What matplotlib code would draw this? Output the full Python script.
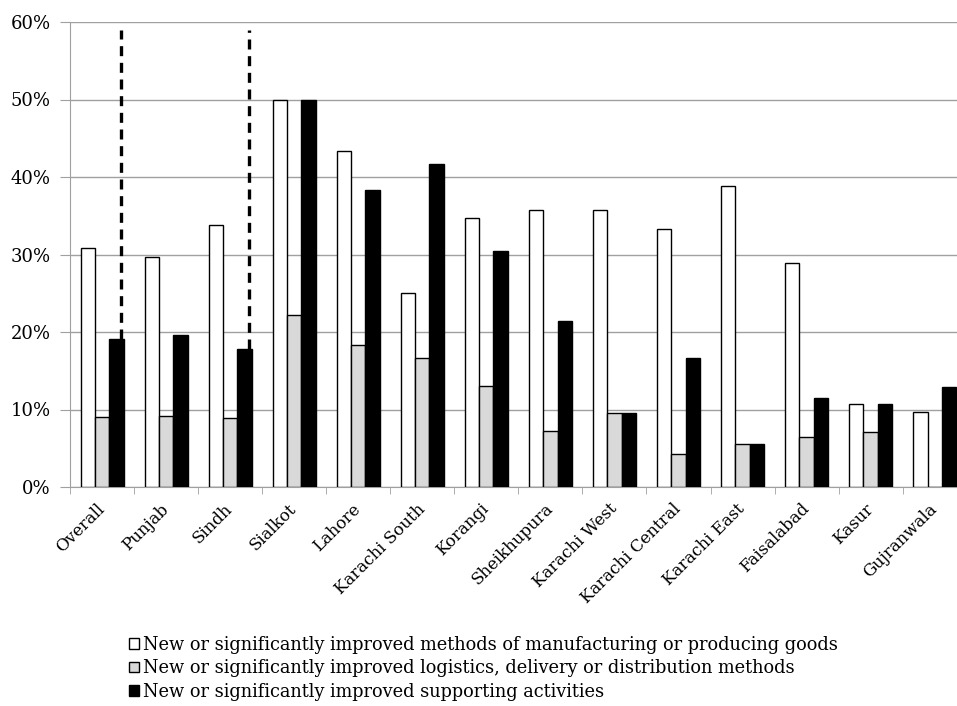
import numpy as np
import matplotlib.pyplot as plt
from matplotlib.ticker import FixedLocator, PercentFormatter

plt.rcParams['font.family'] = ['DejaVu Serif']

# data (percent)
regions = ["Overall", "Punjab", "Sindh", "Sialkot", "Lahore", "Karachi South",
           "Korangi", "Sheikhupura", "Karachi West", "Karachi Central",
           "Karachi East", "Faisalabad", "Kasur", "Gujranwala"]
manufacturing = [30.8, 29.7, 33.8, 50.0, 43.4, 25.0, 34.7, 35.7, 35.7, 33.3, 38.9, 28.9, 10.7, 9.7]
logistics = [9.0, 9.1, 8.9, 22.2, 18.3, 16.6, 13.0, 7.2, 9.5, 4.2, 5.6, 6.4, 7.1, 0.0]
supporting = [19.1, 19.6, 17.8, 50.0, 38.3, 41.7, 30.4, 21.4, 9.5, 16.7, 5.6, 11.5, 10.7, 12.9]
labels = ["New or significantly improved methods of manufacturing or producing goods",
          "New or significantly improved logistics, delivery or distribution methods",
          "New or significantly improved supporting activities"]

# separators drawn above the Overall and Sindh groups
sep_x = [0.29, 2.30]
sep_top = 59.0

fig = plt.figure(figsize=(9.57, 7.06), dpi=100)
ax = fig.add_axes([70 / 957, 1 - 487 / 706, 896.7 / 957, 465 / 706])

x = np.arange(len(regions))
w = 0.224
ax.bar(x - w, manufacturing, w, color="white", edgecolor="black", linewidth=1, label=labels[0], zorder=3)
ax.bar(x, logistics, w, color="#d9d9d9", edgecolor="black", linewidth=1, label=labels[1], zorder=3)
ax.bar(x + w, supporting, w, color="black", edgecolor="black", linewidth=1, label=labels[2], zorder=3)

for sx, i in zip(sep_x, [0, 2]):
    ax.plot([sx, sx], [supporting[i], sep_top], color="black", linestyle=(0, (3, 2)), linewidth=2.4, zorder=4)

ax.set_xlim(-0.5, len(regions) - 0.5)
ax.set_ylim(0, 60)
ax.set_yticks(range(0, 61, 10))
ax.yaxis.set_major_formatter(PercentFormatter(decimals=0))
ax.grid(axis="y", color="#a0a0a0", linewidth=1, zorder=0)

ax.set_xticks(x)
ax.set_xticklabels(regions, rotation=45, ha="right", va="center", rotation_mode="anchor", fontsize=12)
ax.tick_params(axis="x", length=0, pad=14)
ax.xaxis.set_minor_locator(FixedLocator(np.arange(-0.5, len(regions), 1)))
ax.tick_params(axis="x", which="minor", length=5, color="#a0a0a0")
ax.tick_params(axis="y", labelsize=13, length=7, color="#a0a0a0", pad=7)

for s in ["top", "right"]:
    ax.spines[s].set_visible(False)
for s in ["left", "bottom"]:
    ax.spines[s].set_color("#a0a0a0")

fig.legend(loc="upper left", bbox_to_anchor=(129 / 957, 1 - 636 / 706), frameon=False,
           fontsize=12.8, handlelength=0.55, handleheight=0.55, handletextpad=0.25,
           labelspacing=0.3, borderaxespad=0, borderpad=0)

fig.savefig("out.png", dpi=100)
